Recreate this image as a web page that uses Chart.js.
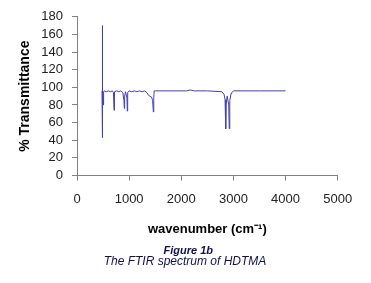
<!DOCTYPE html>
<html>
<head>
<meta charset="utf-8">
<script src="https://cdn.jsdelivr.net/npm/chart.js@4"></script>
<style>
  html, body { margin: 0; padding: 0; background: #fff; }
  canvas { display: block; }
</style>
</head>
<body>
<canvas id="c" width="371" height="283"></canvas>
<script>
// wavenumber (cm-1) and % transmittance
const wavenumber = [480, 483, 485, 487, 489, 492, 496, 505, 510, 520, 560, 600, 640, 680, 700, 710, 716, 722, 760, 800, 840, 880, 900, 908, 914, 930, 958, 965, 972, 1000, 1050, 1100, 1150, 1200, 1250, 1300, 1340, 1370, 1400, 1430, 1450, 1465, 1472, 1480, 1500, 1800, 2100, 2170, 2250, 2500, 2780, 2820, 2840, 2852, 2860, 2880, 2910, 2920, 2930, 2955, 2970, 3000, 3500, 4000];
const transmittance = [96, 170, 60, 148, 43, 90, 96, 80, 95, 96, 95, 96, 95, 96, 94, 74, 80, 95, 96, 95, 96, 94, 85, 76, 90, 95, 88, 73, 94, 96, 95, 96, 95, 96, 95, 96, 94, 91, 90, 89, 85, 72, 88, 96, 96, 96, 96, 97, 96, 96, 95, 92, 86, 53, 80, 90, 80, 53, 85, 93, 94, 96, 96, 96];
const xTicks = [0, 1000, 2000, 3000, 4000, 5000];
const yTicks = [0, 20, 40, 60, 80, 100, 120, 140, 160, 180];
const captionTitle = 'Figure 1b';
const captionText = 'The FTIR spectrum of HDTMA';

const points = wavenumber.map((w, i) => ({ x: w, y: transmittance[i] }));
const FONT = "'Liberation Sans', Arial, sans-serif";

const captionPlugin = {
  id: 'caption',
  afterDraw(chart) {
    const ctx = chart.ctx;
    ctx.save();
    ctx.fillStyle = '#101050';
    ctx.textAlign = 'center';
    ctx.textBaseline = 'middle';
    ctx.font = "italic bold 11px " + FONT;
    ctx.fillText(captionTitle, 188.3, 250.5);
    ctx.font = "italic 12px " + FONT;
    ctx.fillText(captionText, 185, 261.5);
    ctx.restore();
  }
};

new Chart(document.getElementById('c'), {
  type: 'scatter',
  data: {
    datasets: [{
      data: points,
      showLine: true,
      borderColor: '#4040b0',
      borderWidth: 1,
      pointRadius: 0,
      tension: 0
    }]
  },
  plugins: [captionPlugin],
  options: {
    responsive: false,
    animation: false,
    layout: { padding: { left: 0, right: 33.3, top: 16, bottom: 37.25 } },
    plugins: {
      legend: { display: false },
      tooltip: { enabled: false }
    },
    scales: {
      x: {
        type: 'linear',
        min: xTicks[0],
        max: xTicks[xTicks.length - 1],
        afterBuildTicks: s => { s.ticks = xTicks.map(v => ({ value: v })); },
        afterFit: s => { s.height = 70.25; },
        grid: { drawOnChartArea: false, drawTicks: true, tickLength: 5, color: '#808080' },
        border: { color: '#808080', width: 1 },
        ticks: { color: '#222', font: { family: FONT, size: 13 }, padding: 11, maxRotation: 0, autoSkip: false, callback: v => String(v) },
        title: {
          display: true,
          text: 'wavenumber (cm⁻¹)',
          color: '#000',
          font: { family: FONT, size: 13, weight: 'bold' },
          padding: { top: 0, bottom: 9 }
        }
      },
      y: {
        type: 'linear',
        min: yTicks[0],
        max: yTicks[yTicks.length - 1],
        afterBuildTicks: s => { s.ticks = yTicks.map(v => ({ value: v })); },
        afterFit: s => { s.width = 77; },
        grid: { drawOnChartArea: false, drawTicks: true, tickLength: 5, color: '#808080' },
        border: { color: '#808080', width: 1 },
        ticks: { color: '#222', font: { family: FONT, size: 13 }, padding: 9, autoSkip: false, callback: v => String(v) },
        title: {
          display: true,
          text: '% Transmittance',
          color: '#000',
          font: { family: FONT, size: 14, weight: 'bold' },
          padding: { top: 16.6, bottom: 0 }
        }
      }
    }
  }
});
</script>
</body>
</html>
